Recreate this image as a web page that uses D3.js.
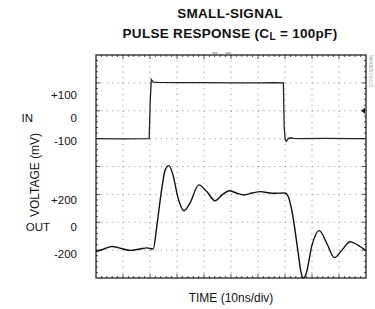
<!DOCTYPE html>
<html><head><meta charset="utf-8">
<script src="https://cdn.jsdelivr.net/npm/d3@7"></script>
<style>body{margin:0;background:#fff}svg{display:block}text{font-family:"Liberation Sans",Arial,sans-serif;fill:#111}</style>
</head><body>
<svg id="c" width="375" height="309"></svg>
<script>
// time axis: 0..100 ns (10 ns/div)
const inTime  = [0, 10, 19.7, 20.1, 20.5, 21.2, 23, 30, 40, 50, 60, 66, 69.4, 69.7, 70.1, 70.5, 71.2, 72, 73.2, 76, 85, 95, 100];
const inMv    = [-100, -101, -100, 40, 112, 103, 102, 101, 101, 100, 100, 101, 100, -60, -104, -110, -100, -97, -99, -100, -99, -100, -100];
const outTime = [0, 3, 5.9, 9.3, 12.6, 16.3, 18.9, 21.2, 22.5, 24.3, 25.6, 27.0, 28.5, 30.4, 32.6, 34.8, 38.1, 41.1, 44.1, 46.7, 49.4, 51.9, 54.8, 57.8, 61, 63.7, 66.3, 70, 71.1, 72.5, 74.9, 75.9, 76.9, 77.8, 80, 82.7, 85.6, 88.3, 91.1, 94.1, 97, 100];
const outMv   = [-105, -96, -87, -94, -101, -96, -92, -96, -16, 116, 187, 203, 170, 87, 41, 69, 134, 109, 77, 98, 113, 105, 98, 105, 110, 106, 104, 105, 94, 44, -111, -178, -200, -186, -82, -30, -78, -127, -100, -70, -82, -102];
const inTicks  = ["+100", "0", "-100"];
const inTickMv = [100, 0, -100];
const outTicks  = ["+200", "0", "-200"];
const outTickMv = [200, 0, -200];

const svg = d3.select("#c");
const L = 96, R = 366, T = 55, B = 278;
const x = d3.scaleLinear([0, 100], [L, R]);
const yDiv = d3.scaleLinear([0, 8], [B, T]);
const yIn = d3.scaleLinear([-600, 200], [B, T]);
const yOut = d3.scaleLinear([-200, 600], [B, T]);
// label placement scales (labels are placed loosely as in the datasheet)
const yInLab = d3.scaleLinear([-100, 100], [141, 95]);
const yOutLab = d3.scaleLinear([-200, 200], [254, 200]);

// grid
const g = svg.append("g");
for (let i = 1; i < 10; i++) {
  g.append("line").attr("x1", x(i*10)).attr("x2", x(i*10)).attr("y1", T).attr("y2", B)
   .attr("stroke", "#888").attr("stroke-width", 1).attr("stroke-dasharray", "1 4.57");
}
for (let j = 1; j < 8; j++) {
  g.append("line").attr("x1", L).attr("x2", R).attr("y1", yDiv(j)).attr("y2", yDiv(j))
   .attr("stroke", "#888").attr("stroke-width", 1).attr("stroke-dasharray", "1 4.4");
}
// frame ticks
const tk = svg.append("g").attr("stroke", "#222").attr("stroke-width", 0.8);
for (let k = 1; k < 50; k++) {
  const xx = x(k*2), len = (k % 5 === 0) ? 4 : 2;
  tk.append("line").attr("x1", xx).attr("x2", xx).attr("y1", T).attr("y2", T+len);
  tk.append("line").attr("x1", xx).attr("x2", xx).attr("y1", B).attr("y2", B-len);
}
for (let k = 1; k < 40; k++) {
  const yy = yDiv(k*0.2), len = (k % 5 === 0) ? 4 : 2;
  tk.append("line").attr("y1", yy).attr("y2", yy).attr("x1", L).attr("x2", L+len);
  tk.append("line").attr("y1", yy).attr("y2", yy).attr("x1", R).attr("x2", R-len);
}
svg.append("rect").attr("x", L).attr("y", T).attr("width", R-L).attr("height", B-T)
  .attr("fill", "none").attr("stroke", "#111").attr("stroke-width", 1.2);

// traces
const inLine = d3.line().x((d,i)=>x(inTime[i])).y((d,i)=>yIn(inMv[i]));
svg.append("path").attr("d", inLine(inTime)).attr("fill", "none").attr("stroke", "#222").attr("stroke-width", 1.3);
const outLine = d3.line().x((d,i)=>x(outTime[i])).y((d,i)=>Math.min(B, yOut(outMv[i]))).curve(d3.curveMonotoneX);
svg.append("path").attr("d", outLine(outTime)).attr("fill", "none").attr("stroke", "#111").attr("stroke-width", 1.4);

// trigger markers
svg.append("path").attr("d", `M${R-1},${yDiv(6)-3} L${R-5},${yDiv(6)} L${R-1},${yDiv(6)+3} Z`).attr("fill", "#111");
svg.append("line").attr("x1", x(43)).attr("x2", x(45)).attr("y1", T-2).attr("y2", T-2).attr("stroke", "#777");
svg.append("line").attr("x1", x(48)).attr("x2", x(50)).attr("y1", T-2).attr("y2", T-2).attr("stroke", "#777");

// titles
svg.append("text").attr("x", 230).attr("y", 18).attr("text-anchor", "middle")
  .attr("font-size", 13.5).attr("font-weight", "bold").attr("letter-spacing", 0.3).text("SMALL-SIGNAL");
const t2 = svg.append("text").attr("x", 230).attr("y", 38).attr("text-anchor", "middle")
  .attr("font-size", 13.5).attr("font-weight", "bold").attr("letter-spacing", 0.3);
t2.append("tspan").text("PULSE RESPONSE (C");
t2.append("tspan").attr("font-size", 10).attr("dy", 2).text("L");
t2.append("tspan").attr("dy", -2).text(" = 100pF)");

// y tick labels
inTicks.forEach((s, i) => svg.append("text").attr("x", 77).attr("y", yInLab(inTickMv[i])).attr("dy", "0.35em")
  .attr("text-anchor", "end").attr("font-size", 11.5).text(s));
outTicks.forEach((s, i) => svg.append("text").attr("x", 77).attr("y", yOutLab(outTickMv[i])).attr("dy", "0.35em")
  .attr("text-anchor", "end").attr("font-size", 11.5).text(s));
svg.append("text").attr("x", 33).attr("y", yInLab(0)).attr("dy", "0.35em").attr("text-anchor", "end").attr("font-size", 11.5).text("IN");
svg.append("text").attr("x", 50).attr("y", yOutLab(0)).attr("dy", "0.35em").attr("text-anchor", "end").attr("font-size", 11.5).text("OUT");

// axis titles
svg.append("text").attr("transform", "translate(39,175) rotate(-90)").attr("text-anchor", "middle")
  .attr("font-size", 12).text("VOLTAGE (mV)");
svg.append("text").attr("x", 231).attr("y", 302).attr("text-anchor", "middle").attr("font-size", 12).text("TIME (10ns/div)");

// figure code
svg.append("text").attr("transform", "translate(369,55) rotate(90)").attr("font-size", 4.5)
  .style("fill", "#999").text("MAX4223 toc15");
</script>
</body></html>
